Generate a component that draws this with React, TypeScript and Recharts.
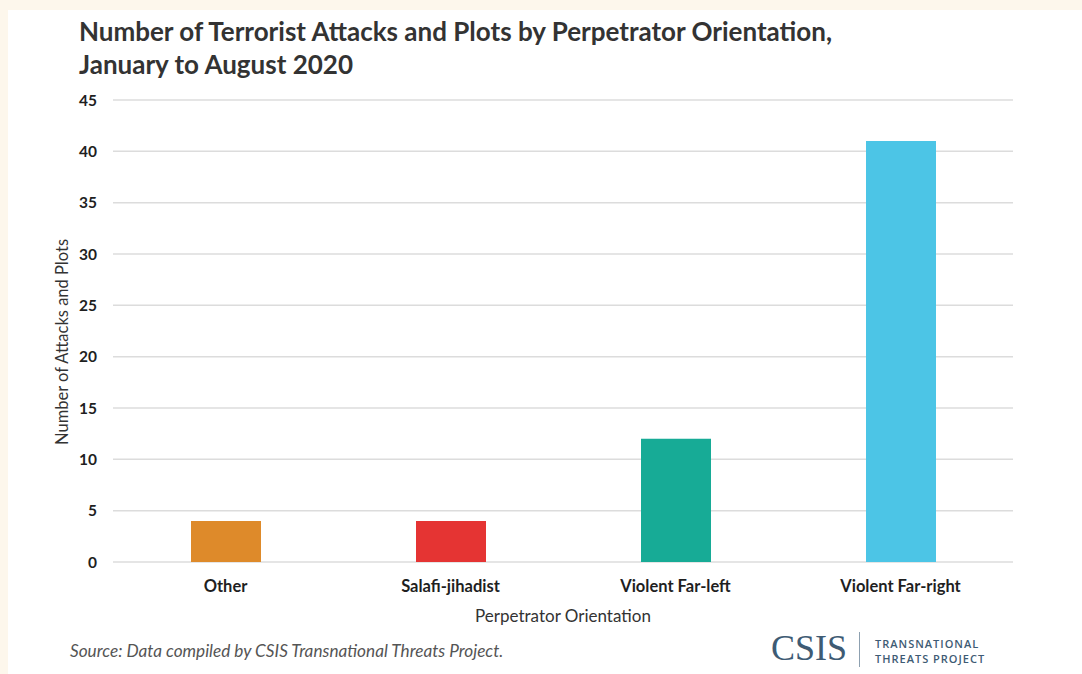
import { BarChart, Bar, XAxis, YAxis, CartesianGrid, Cell } from "recharts";

const categories = ["Other", "Salafi-jihadist", "Violent Far-left", "Violent Far-right"];
const counts = [4, 4, 12, 41];
const barColors = ["#de8a2a", "#e53433", "#17ab96", "#4cc5e6"];
const yTicks = [0, 5, 10, 15, 20, 25, 30, 35, 40, 45];

const data = categories.map((name, i) => ({ name, count: counts[i] }));

const font = "Lato, 'Noto Sans', sans-serif";

export default function App() {
  return (
    <div
      style={{
        position: "fixed",
        left: 0,
        top: 0,
        width: 1082,
        height: 674,
        background: "#fdf7ec",
        fontFamily: font,
        overflow: "hidden",
      }}
    >
      <div
        style={{
          position: "absolute",
          left: 8,
          top: 10,
          right: 0,
          bottom: 0,
          background: "#ffffff",
        }}
      />
      <div
        style={{
          position: "absolute",
          left: 79,
          top: 15,
          fontSize: 26,
          fontWeight: 700,
          lineHeight: "33px",
          color: "#333333",
        }}
      >
        Number of Terrorist Attacks and Plots by Perpetrator Orientation,
        <br />
        January to August 2020
      </div>

      <div style={{ position: "absolute", left: 0, top: 0 }}>
        <BarChart
          width={1082}
          height={674}
          data={data}
          margin={{ top: 100, right: 69, bottom: 52, left: 53 }}
          barSize={70}
        >
          <CartesianGrid vertical={false} stroke="#dcdcdc" strokeWidth={1.5} />
          <XAxis
            dataKey="name"
            axisLine={false}
            tickLine={false}
            tickSize={0}
            tickMargin={18}
            height={60}
            tick={{ fill: "#1f1f1f", fontSize: 16.5, fontWeight: 700, fontFamily: font }}
            label={{
              value: "Perpetrator Orientation",
              position: "insideBottom",
              offset: 0,
              fill: "#333333",
              fontSize: 17,
              fontFamily: font,
            }}
          />
          <YAxis
            width={60}
            domain={[0, 45]}
            ticks={yTicks}
            interval={0}
            axisLine={false}
            tickLine={false}
            tickSize={0}
            tickMargin={16}
            tick={{ fill: "#1f1f1f", fontSize: 15.5, fontWeight: 700, fontFamily: font }}
            label={{
              value: "Number of Attacks and Plots",
              angle: -90,
              position: "insideLeft",
              offset: 9,
              dy: 11,
              fill: "#333333",
              fontSize: 16.5,
              fontFamily: font,
              style: { textAnchor: "middle" },
            }}
          />
          <Bar dataKey="count" isAnimationActive={false}>
            {data.map((d, i) => (
              <Cell key={d.name} fill={barColors[i]} />
            ))}
          </Bar>
        </BarChart>
      </div>

      <div
        style={{
          position: "absolute",
          left: 70,
          top: 640,
          fontSize: 17.2,
          fontStyle: "italic",
          color: "#555555",
        }}
      >
        Source: Data compiled by CSIS Transnational Threats Project.
      </div>

      <div
        style={{
          position: "absolute",
          left: 771,
          top: 628,
          fontFamily: "'Liberation Serif', 'DejaVu Serif', serif",
          fontSize: 36,
          color: "#3e5b74",
          lineHeight: "40px",
        }}
      >
        CSIS
      </div>
      <div
        style={{
          position: "absolute",
          left: 859,
          top: 632,
          width: 1,
          height: 35,
          background: "#8da0b0",
        }}
      />
      <div
        style={{
          position: "absolute",
          left: 875,
          top: 636,
          fontSize: 11,
          fontWeight: 600,
          lineHeight: "15px",
          letterSpacing: 1,
          color: "#3e5b74",
          fontFamily: "'Open Sans', sans-serif",
        }}
      >
        TRANSNATIONAL
        <br />
        THREATS PROJECT
      </div>
    </div>
  );
}
